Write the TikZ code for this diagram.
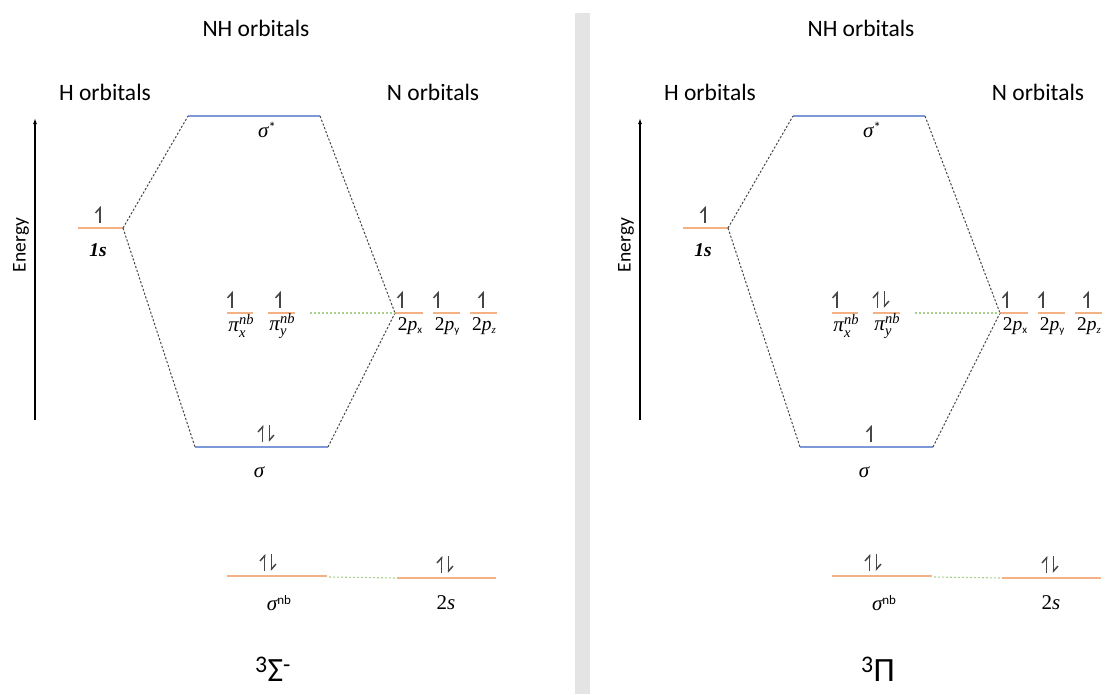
\documentclass[tikz,border=0pt]{standalone}
\usepackage{fontspec}
\setmainfont{Carlito}
\newfontfamily\lserif{Liberation Serif}
\usetikzlibrary{arrows.meta}
\definecolor{lvblue}{RGB}{125,152,214}
\definecolor{lvorange}{RGB}{244,177,131}
\definecolor{lvgreen}{RGB}{169,209,142}
\definecolor{dashgrey}{RGB}{70,70,70}
\definecolor{divgrey}{RGB}{228,228,228}
\definecolor{elecgrey}{RGB}{70,70,70}
\tikzset{
  bluelevel/.style={draw=lvblue,line width=1.6pt},
  orangelevel/.style={draw=lvorange,line width=1.6pt},
  corr/.style={draw=dashgrey,line width=1pt,dash pattern=on 2.2pt off 1.8pt},
  nbcorr/.style={draw=lvgreen,line width=1.1pt,dash pattern=on 2.2pt off 1.8pt},
  elec/.style={draw=elecgrey,line width=1.5pt,-{Straight Barb[left,length=5pt,width=9pt]}},
  heading/.style={inner sep=0pt,font=\fontsize{23.5}{26}\selectfont},
  mlabel/.style={inner sep=0pt,font=\fontsize{21}{23}\selectfont},
  plabel/.style={inner sep=0pt,font=\fontsize{19.5}{21}\selectfont},
  termlabel/.style={inner sep=0pt,font=\fontsize{34}{38}\selectfont},
  axis/.style={draw=black,line width=1.2pt,-{Latex[length=6pt,width=4pt]}}
}
\newcommand\ml[1]{{\lserif\itshape #1}}
\newcommand\mup[1]{{\lserif #1}}
\newcommand\scr[1]{\fontsize{14.5}{14.5}\selectfont #1}
\newcommand\subsup[2]{\makebox[0pt][l]{\raisebox{-5.5pt}{\scr{\ml{#1}}}}\raisebox{7pt}{\scr{\ml{#2}}}}
\newcommand\upe[2]{\draw[elec] (#1,#2-5) -- (#1,#2-22);}
\newcommand\dne[2]{\draw[elec] (#1,#2-22) -- (#1,#2-5);}
\newcommand\pairE[2]{\upe{#1-3.5}{#2}\dne{#1+3.5}{#2}}
% #1 prefix, #2 shift, #3 sigma electrons code, #4 pi_y electrons code, #5 term
\newcommand\MOpanel[5]{%
\begin{scope}[xshift=#2]
  % headings
  \node[heading] (#1nh) at (256,28) {NH orbitals};
  \node[heading] (#1h) at (105,92.5) {H orbitals};
  \node[heading] (#1n) at (433,92.5) {N orbitals};
  % energy axis
  \coordinate (#1ax0) at (35,420);
  \coordinate (#1ax1) at (35,118);
  \draw[axis] (#1ax0) -- (#1ax1);
  \node[inner sep=0pt,rotate=90,font=\fontsize{19.5}{21}\selectfont] (#1en) at (21,245) {Energy};
  % levels
  \coordinate (#1ssL) at (188,116); \coordinate (#1ssR) at (320,116);
  \draw[bluelevel] (#1ssL) -- (#1ssR);
  \coordinate (#1hL) at (78,228); \coordinate (#1hR) at (123,228);
  \draw[orangelevel] (#1hL) -- (#1hR);
  \coordinate (#1sL) at (195,447); \coordinate (#1sR) at (328,447);
  \draw[bluelevel] (#1sL) -- (#1sR);
  \coordinate (#1pxL) at (227,313); \coordinate (#1pxR) at (253,313);
  \draw[orangelevel] (#1pxL) -- (#1pxR);
  \coordinate (#1pyL) at (268,313); \coordinate (#1pyR) at (295,313);
  \draw[orangelevel] (#1pyL) -- (#1pyR);
  \coordinate (#1axL) at (395,313); \coordinate (#1axR) at (423,313);
  \draw[orangelevel] (#1axL) -- (#1axR);
  \coordinate (#1ayL) at (433,313); \coordinate (#1ayR) at (460,313);
  \draw[orangelevel] (#1ayL) -- (#1ayR);
  \coordinate (#1azL) at (470,313); \coordinate (#1azR) at (497,313);
  \draw[orangelevel] (#1azL) -- (#1azR);
  \coordinate (#1nbL) at (227,576); \coordinate (#1nbR) at (327,576);
  \draw[orangelevel] (#1nbL) -- (#1nbR);
  \coordinate (#1tsL) at (397,578); \coordinate (#1tsR) at (496,578);
  \draw[orangelevel] (#1tsL) -- (#1tsR);
  % correlation lines
  \draw[corr] (#1hR) -- (#1ssL);
  \draw[corr] (#1hR) -- (#1sL);
  \draw[corr] (#1ssR) -- (#1axL);
  \draw[corr] (#1sR) -- (#1axL);
  \coordinate (#1pyE) at (310,313);
  \draw[nbcorr] (#1pyE) -- (#1axL);
  \coordinate (#1nbE) at (329,577);
  \draw[nbcorr] (#1nbE) -- (#1tsL);
  % labels
  \node[mlabel] (#1lss) at (267,130) {\ml{σ}\raisebox{5pt}{\scr{*}}};
  \node[plabel] (#1lh) at (98,250) {{\lserif\bfseries\itshape 1s}};
  \node[mlabel] (#1ls) at (259,472) {\ml{σ}};
  \node[mlabel] (#1lpx) at (241,326) {\ml{π}\subsup{x}{nb}};
  \node[mlabel] (#1lpy) at (282,326) {\ml{π}\subsup{y}{nb}};
  \node[plabel] (#1lax) at (410,326) {\mup{2}\ml{p}\raisebox{-3pt}{\fontsize{11}{11}\selectfont x}};
  \node[plabel] (#1lay) at (447,326) {\mup{2}\ml{p}\raisebox{-3pt}{\fontsize{11}{11}\selectfont y}};
  \node[plabel] (#1laz) at (484,326) {\mup{2}\ml{p}\raisebox{-3pt}{\fontsize{11}{11}\selectfont\ml{z}}};
  \node[mlabel] (#1lnb) at (279,603) {\ml{σ}\raisebox{6.5pt}{\fontsize{13}{13}\selectfont nb}};
  \node[mlabel] (#1lts) at (446,603) {\mup{2}\ml{s}};
  \node[termlabel] (#1term) at (273,669) {#5};
  % electrons
  \upe{100}{228}
  #3
  \upe{232}{313}
  #4
  \upe{402}{313}
  \upe{438}{313}
  \upe{483}{313}
  \pairE{268}{576}
  \pairE{445}{578}
\end{scope}}
\begin{document}
\begin{tikzpicture}[x=1pt,y=-1pt]
\useasboundingbox (0,0) rectangle (1106,694);
\fill[divgrey] (575,13) rectangle (590,694);
\MOpanel{a}{0pt}{\pairE{266}{447}}{\upe{280}{313}}{\textsuperscript{3}Σ\textsuperscript{-}}
\MOpanel{b}{605pt}{\upe{266}{447}}{\pairE{276}{313}}{\textsuperscript{3}Π}
\end{tikzpicture}
\end{document}
